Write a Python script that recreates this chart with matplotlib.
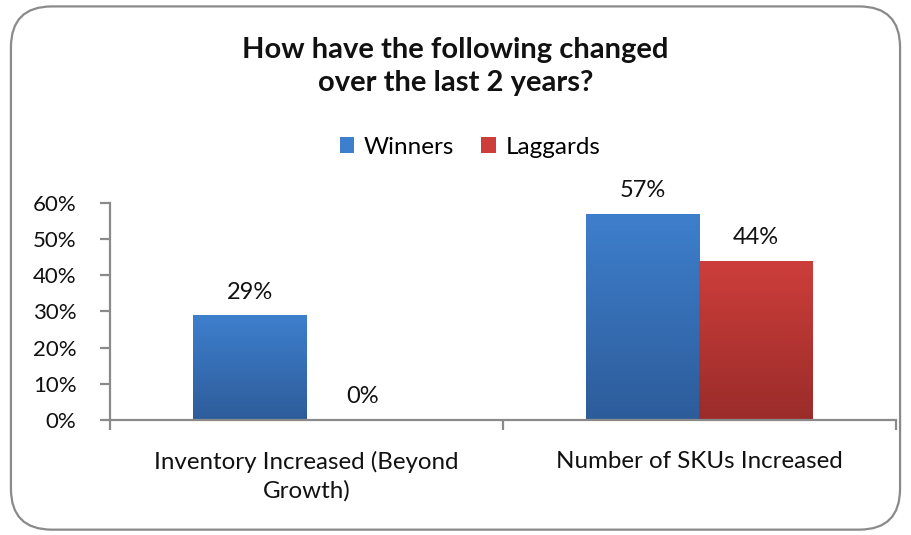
import numpy as np
import matplotlib
matplotlib.use("Agg")
import matplotlib.pyplot as plt
from matplotlib.patches import FancyBboxPatch, Patch
from matplotlib.colors import LinearSegmentedColormap

plt.rcParams['font.family'] = ['Lato', 'DejaVu Sans']

# data
categories = ["Inventory Increased (Beyond\nGrowth)", "Number of SKUs Increased"]
winners = [0.29, 0.57]
laggards = [0.00, 0.44]
series_names = ["Winners", "Laggards"]
yticks = [0, 0.1, 0.2, 0.3, 0.4, 0.5, 0.6]

# colours (top, bottom) of the gradient fills
blue_top, blue_bot = "#3E7FCD", "#2D5C9A"
red_top, red_bot = "#CD3E3B", "#9A2C2A"

fig = plt.figure(figsize=(9.11, 5.35), dpi=100)
ax = fig.add_axes([0.1207, 0.2150, 0.8628, 0.4056])

# rounded border round the chart area
border = FancyBboxPatch((0.012, 0.01), 0.976, 0.978, boxstyle="round,pad=0,rounding_size=0.045",
                        transform=fig.transFigure, facecolor="none", edgecolor="#8a8a8a",
                        linewidth=1.6, mutation_aspect=911 / 535)
fig.patches.append(border)

x = np.arange(len(categories))
w = 0.288


def gradient_bars(bars, top, bottom):
    cmap = LinearSegmentedColormap.from_list("g", [bottom, top])
    grad = np.linspace(0, 1, 256).reshape(-1, 1)
    for b in bars:
        h = b.get_height()
        if h <= 0:
            continue
        x0 = b.get_x()
        im = ax.imshow(grad, cmap=cmap, origin="lower", aspect="auto",
                       extent=[x0, x0 + b.get_width(), 0, h], zorder=2)
        im.set_clip_path(b)


b1 = ax.bar(x - w / 2, winners, w, color=blue_top, zorder=2, linewidth=0)
b2 = ax.bar(x + w / 2, laggards, w, color=red_top, zorder=2, linewidth=0)
gradient_bars(b1, blue_top, blue_bot)
gradient_bars(b2, red_top, red_bot)

for bars, vals in ((b1, winners), (b2, laggards)):
    for b, v in zip(bars, vals):
        ax.annotate(f"{v:.0%}", (b.get_x() + b.get_width() / 2, v),
                    xytext=(0, 9), textcoords="offset points",
                    ha="center", va="bottom", fontsize=17, color="#111111")

ax.set_xlim(-0.5, len(categories) - 0.5)
ax.set_ylim(0, 0.6)
ax.set_yticks(yticks)
ax.set_yticklabels([f"{t:.0%}" for t in yticks])
ax.set_xticks(x)
ax.set_xticklabels(categories, fontsize=17.4, linespacing=1.45)
ax.set_xticks(np.arange(-0.5, len(categories)), minor=True)

for s in ("top", "right"):
    ax.spines[s].set_visible(False)
for s in ("left", "bottom"):
    ax.spines[s].set_color("#8a8a8a")
    ax.spines[s].set_linewidth(1.6)

ax.tick_params(axis="y", length=7, width=1.6, color="#8a8a8a", labelsize=16,
               labelcolor="#111111", pad=17)
ax.tick_params(axis="x", which="major", length=0, pad=22, labelcolor="#111111")
ax.tick_params(axis="x", which="minor", length=7, width=1.6, color="#8a8a8a")
ax.set_facecolor("none")

fig.text(0.5, 0.876, "How have the following changed\nover the last 2 years?",
         ha="center", va="center", fontsize=21, fontweight="bold", linespacing=1.35,
         color="#111111")

handles = [Patch(facecolor=blue_top, edgecolor="none"), Patch(facecolor=red_top, edgecolor="none")]
fig.legend(handles, series_names, loc="center", bbox_to_anchor=(0.516, 0.725), ncol=2,
           frameon=False, fontsize=17.5, handlelength=0.6, handleheight=0.6,
           handletextpad=0.4, columnspacing=1.1)

fig.savefig("out.png", dpi=100)
